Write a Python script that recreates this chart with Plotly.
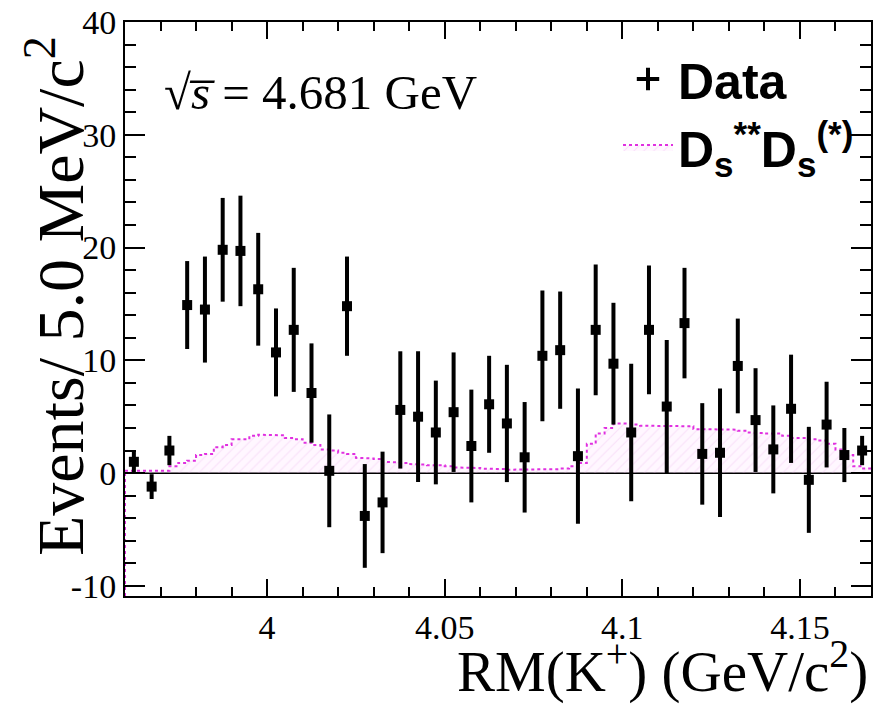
import numpy as np
import plotly.graph_objects as go

# ---- data ----
bin_width = 0.005
x_lo, x_hi = 3.96, 4.17
data_values = [1.0, -1.2, 2.0, 14.9, 14.5, 19.8, 19.7, 16.3, 10.7, 12.7,
               7.1, 0.2, 14.8, -3.8, -2.6, 5.6, 5.0, 3.6, 5.4, 2.4,
               6.1, 4.4, 1.4, 10.4, 10.9, 1.5, 12.7, 9.7, 3.6, 12.7,
               5.9, 13.3, 1.7, 1.8, 9.5, 4.7, 2.1, 5.7, -0.6, 4.3,
               1.6, 2.0]
data_errors = [1.0, 1.1, 1.3, 3.9, 4.7, 4.6, 4.9, 5.0, 3.9, 5.5,
               4.4, 5.0, 4.4, 4.6, 4.5, 5.2, 5.8, 4.6, 5.3, 5.0,
               4.3, 5.2, 4.9, 5.8, 5.2, 6.0, 5.8, 5.4, 6.1, 5.7,
               5.9, 4.9, 4.5, 5.7, 4.2, 4.6, 3.9, 4.8, 4.7, 3.8,
               2.4, 1.3]
data_x = [x_lo + (i + 0.5) * bin_width for i in range(len(data_values))]

# D_s** D_s(*) shape, fine bins of 2.5 MeV
mc_bin_width = 0.0025
mc_values = [0.2, 0.2, 0.2, 0.2, 0.2, 0.6, 0.9, 1.1, 1.6, 1.7,
             2.3, 2.5, 3.0, 3.0, 3.3, 3.4, 3.4, 3.35, 3.1, 3.0,
             2.7, 2.5, 2.1, 2.0, 1.8, 1.7, 1.35, 1.3, 1.25, 1.0,
             0.95, 0.9, 0.8, 0.75, 0.7, 0.7, 0.6, 0.5, 0.45, 0.45,
             0.4, 0.4, 0.35, 0.3, 0.3, 0.3, 0.3, 0.3, 0.35, 0.4,
             0.6, 0.9, 2.6, 3.5, 4.0, 4.4, 4.4, 4.3, 4.2, 4.2,
             4.2, 4.2, 4.2, 4.15, 3.9, 3.9, 3.9, 3.9, 3.85, 3.75,
             3.6, 3.55, 3.5, 3.5, 3.3, 3.1, 3.1, 3.0, 2.9, 2.6,
             2.1, 1.6, 0.6, 0.4]
mc_edges = [x_lo + j * mc_bin_width for j in range(len(mc_values) + 1)]

y_lo, y_hi = -10.9, 40
y_tickvals = [-10, 0, 10, 20, 30, 40]
y_ticktext = ["-10", "0", "10", "20", "30", "40"]
x_tickvals = [4.0, 4.05, 4.1, 4.15]
x_ticktext = ["4", "4.05", "4.1", "4.15"]

# ---- build step line for MC histogram ----
step_x = [mc_edges[0]]
step_y = [mc_values[0]]
for j, v in enumerate(mc_values):
    step_x += [mc_edges[j], mc_edges[j + 1]]
    step_y += [v, v]

fig = go.Figure()

# left edge drop line of histogram (ROOT style)
fig.add_trace(go.Scatter(
    x=[mc_edges[0], mc_edges[0]], y=[y_lo, mc_values[0]], mode="lines",
    line=dict(color="#e030e0", width=2, dash="dot"), showlegend=False, hoverinfo="skip"))

fig.add_trace(go.Scatter(
    x=step_x, y=step_y, mode="lines", fill="tozeroy",
    fillcolor="rgba(255,235,255,0.6)",
    fillpattern=dict(shape="/", fgcolor="rgba(235,170,235,0.6)",
                     bgcolor="rgba(255,240,255,0.5)", size=7, solidity=0.15),
    line=dict(color="#e030e0", width=2, dash="dot"),
    name="<b>D<sub>s</sub><sup>**</sup>D<sub>s</sub><sup>(*)</sup></b>",
    legendrank=2,
))

fig.add_trace(go.Scatter(
    x=data_x, y=data_values, mode="markers",
    marker=dict(symbol="square", size=10, color="black"),
    error_y=dict(type="data", array=data_errors, visible=True,
                 color="black", thickness=4, width=0),
    showlegend=False,
))

# legend entry for data (cross symbol)
fig.add_trace(go.Scatter(
    x=[None], y=[None], mode="markers",
    marker=dict(symbol="cross-thin", size=36, color="black",
                line=dict(color="black", width=4)),
    name="<b>Data</b>", legendrank=1,
))

serif = "Liberation Serif"
axis_common = dict(showline=True, linecolor="black", linewidth=2, mirror="ticks",
                   ticks="inside", tickcolor="black", tickwidth=2, automargin=False,
                   showgrid=False, tickfont=dict(family=serif, size=34, color="black"))

fig.update_xaxes(range=[x_lo, x_hi], tickvals=x_tickvals, ticktext=x_ticktext,
                 ticklen=17, zeroline=False,
                 minor=dict(ticks="inside", ticklen=9, dtick=0.01, tick0=4.0,
                            tickcolor="black", tickwidth=2),
                 **axis_common)
fig.update_yaxes(range=[y_lo, y_hi], tickvals=y_tickvals, ticktext=y_ticktext,
                 ticklen=20, zeroline=True, zerolinecolor="black", zerolinewidth=2,
                 minor=dict(ticks="inside", ticklen=11, dtick=2, tick0=0,
                            tickcolor="black", tickwidth=2),
                 **axis_common)

W, H = 876, 705
ml, mr, mt, mb = 125, 5, 22, 109
pw, ph = W - ml - mr, H - mt - mb

def px_x(p):
    return (p - ml) / pw

def px_y(p):
    return (H - mb - p) / ph

fig.update_layout(
    width=W, height=H,
    margin=dict(l=ml, r=mr, t=mt, b=mb, autoexpand=False),
    plot_bgcolor="white", paper_bgcolor="white",
    legend=dict(x=px_x(618), y=px_y(40), xanchor="left", yanchor="top",
                font=dict(family="Liberation Sans", size=50, color="black"),
                bgcolor="rgba(0,0,0,0)", itemwidth=50, tracegroupgap=0,
                traceorder="normal"),
    annotations=[
        dict(text="Events/ 5.0 MeV/c<sup>2</sup>", textangle=-90,
             xref="paper", yref="paper", x=px_x(55), y=px_y(296),
             xanchor="center", yanchor="middle", showarrow=False,
             font=dict(family=serif, size=66, color="black")),
        dict(text="RM(K<sup>+</sup>) (GeV/c<sup>2</sup>)",
             xref="paper", yref="paper", x=px_x(870), y=px_y(667),
             xanchor="right", yanchor="middle", showarrow=False,
             font=dict(family=serif, size=57, color="black")),
        dict(text="√<i>s̅</i> = 4.681 GeV",
             xref="paper", yref="paper", x=px_x(162), y=px_y(92),
             xanchor="left", yanchor="middle", showarrow=False,
             font=dict(family=serif, size=49, color="black")),
    ],
)

fig.write_html("out.html", config={"displayModeBar": False},
               post_script="document.body.style.margin='0px';document.body.style.overflow='hidden';")
